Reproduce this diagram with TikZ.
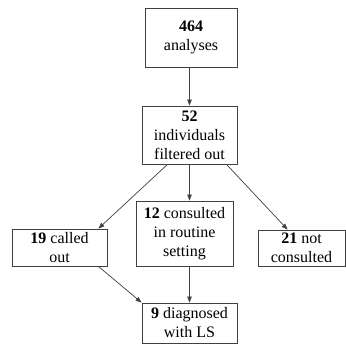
\documentclass[tikz,border=0pt]{standalone}
\usepackage{fontspec}
\setmainfont{Liberation Serif}
\usetikzlibrary{arrows.meta,calc}
\begin{document}
\begin{tikzpicture}[x=1pt,y=-1pt,
  box/.style={draw=black!75, line width=0.8pt, rectangle, inner sep=0pt,
    align=center, font=\fontsize{16}{19}\selectfont},
  link/.style={draw=black!75, line width=0.7pt,
    -{Triangle[length=6pt,width=4.5pt]}}]
\useasboundingbox (0,0) rectangle (346,344);
% boxes
\node[box, minimum width=92pt, minimum height=59pt] (b1) at (191,37.5)
  {\textbf{464}\\analyses};
\node[box, minimum width=95pt, minimum height=58pt] (b2) at (189.5,135)
  {\textbf{52}\\individuals\\filtered out};
\node[box, minimum width=95pt, minimum height=37pt] (b19) at (59.5,247.5)
  {\textbf{19} called\\out};
\node[box, minimum width=97pt, minimum height=65pt] (b12) at (184.5,233.5)
  {\textbf{12} consulted\\in routine\\setting};
\node[box, minimum width=87pt, minimum height=36pt] (b21) at (301.5,248)
  {\textbf{21} not\\consulted};
\node[box, minimum width=95pt, minimum height=40pt] (b9) at (189.5,323)
  {\textbf{9} diagnosed\\with LS};
% connectors
\draw[link] (b1.south -| b2.north) -- (b2.north);
\draw[link] ($(b2.south)+(-22,0)$) -- ($(b19.north east)+(-9,0)$);
\draw[link] (b2.south) -- (b2.south |- b12.north);
\draw[link] ($(b2.south)+(37,0)$) -- ($(b21.north west)+(30,0)$);
\draw[link] ($(b19.south east)+(-9,0)$) -- (b9.north west);
\draw[link] (b9.north |- b12.south) -- (b9.north);
\end{tikzpicture}
\end{document}
